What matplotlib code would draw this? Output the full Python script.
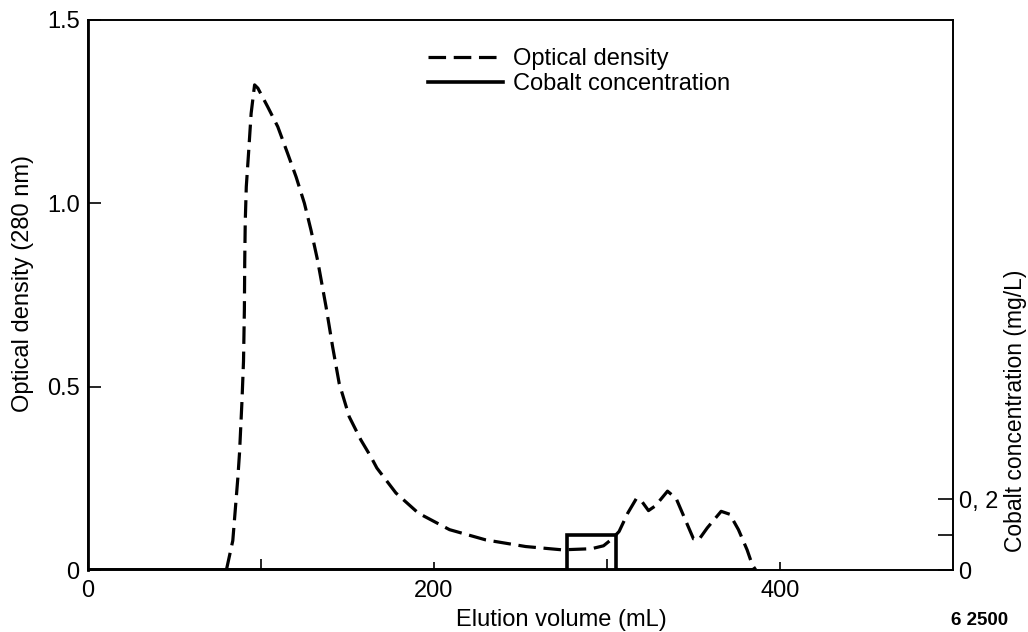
import matplotlib.pyplot as plt
from matplotlib.ticker import FixedLocator

plt.rcParams['font.family'] = ['Liberation Sans', 'DejaVu Sans']

# Optical density (280 nm) along the elution
od_volume = [80, 83.7, 86.6, 87.6, 89, 89.9, 90.4, 90.6, 90.9, 91.5, 92.8, 94.3,
             96.3, 98.2, 103.9, 109.7, 115.4, 120.3, 125.1, 128.9, 132.7, 137.6,
             141.4, 145.2, 151, 157.7, 163.5, 167, 178, 191, 209, 230, 253, 274,
             291, 298, 303, 307, 312, 317, 320, 324, 328, 335, 340, 345, 350, 353,
             358, 366, 371, 376, 381, 384, 386]
od_value = [0, 0.08, 0.25, 0.32, 0.46, 0.57, 0.71, 0.84, 0.95, 1.045, 1.136, 1.245,
            1.323, 1.314, 1.263, 1.209, 1.136, 1.072, 1.0, 0.927, 0.845, 0.718,
            0.609, 0.509, 0.418, 0.355, 0.309, 0.278, 0.21, 0.155, 0.11, 0.082,
            0.064, 0.055, 0.058, 0.066, 0.085, 0.105, 0.155, 0.195, 0.188, 0.162,
            0.175, 0.215, 0.195, 0.14, 0.085, 0.082, 0.115, 0.16, 0.152, 0.11,
            0.055, 0.014, 0]

# Cobalt concentration (mg/L), step profile
co_volume = [0, 277, 277, 305, 305, 385]
co_value = [0, 0, 0.1, 0.1, 0, 0]

x_ticks = [0, 200, 400]
x_minor = [100, 300]
od_ticks = [0, 0.5, 1.0, 1.5]
od_labels = ['0', '0.5', '1.0', '1.5']
co_ticks = [0, 0.1, 0.2]
co_labels = ['0', '', '0, 2']

fs = 17

fig = plt.figure(figsize=(10.28, 6.32), dpi=100)
ax = fig.add_axes([0.0856, 0.0981, 0.8414, 0.8703])
ax2 = ax.twinx()

od_line, = ax.plot(od_volume, od_value, color='black', lw=2.3,
                   linestyle=(0, (5.5, 2.4)), label='Optical density')
co_line, = ax2.plot(co_volume, co_value, color='black', lw=2.6,
                    solid_joinstyle='miter', label='Cobalt concentration')
ax.plot([0, 385], [0, 0], color='black', lw=3.5, solid_capstyle='butt', zorder=1)

ax.set_xlim(0, 500)
ax.set_ylim(0, 1.5)
ax2.set_ylim(0, 1.55)

ax.set_xticks(x_ticks)
ax.xaxis.set_minor_locator(FixedLocator(x_minor))
ax.set_yticks(od_ticks)
ax.set_yticklabels(od_labels)
ax2.set_yticks(co_ticks)
ax2.set_yticklabels(co_labels)

ax.tick_params(axis='both', which='both', direction='in', labelsize=fs,
               width=1.2, top=False)
ax.tick_params(axis='x', which='major', length=6, pad=7)
ax.tick_params(axis='x', which='minor', length=8)
ax.tick_params(axis='y', length=9, pad=6)
ax2.tick_params(axis='y', direction='in', length=11, width=1.2, labelsize=fs, pad=4)

for a in (ax, ax2):
    for s in a.spines.values():
        s.set_linewidth(1.2)
ax.spines['left'].set_linewidth(2)

ax.set_xlabel('Elution volume (mL)', fontsize=fs)
ax.xaxis.set_label_coords(0.547, -0.07)
ax.set_ylabel('Optical density (280 nm)', fontsize=fs)
ax.yaxis.set_label_coords(-0.063, 0.52)
ax2.set_ylabel('Cobalt concentration (mg/L)', fontsize=16.5)
ax2.yaxis.set_label_coords(1.059, 0.29)

ax.legend(handles=[od_line, co_line], loc='upper left',
          bbox_to_anchor=(0.368, 0.987), frameon=False, fontsize=fs,
          handlelength=3.2, handletextpad=0.4, labelspacing=0.12)

fig.text(0.953, 0.004, '6 2500', fontsize=13.5, fontweight='bold', ha='center', va='bottom')

fig.savefig('out.png', dpi=100)
